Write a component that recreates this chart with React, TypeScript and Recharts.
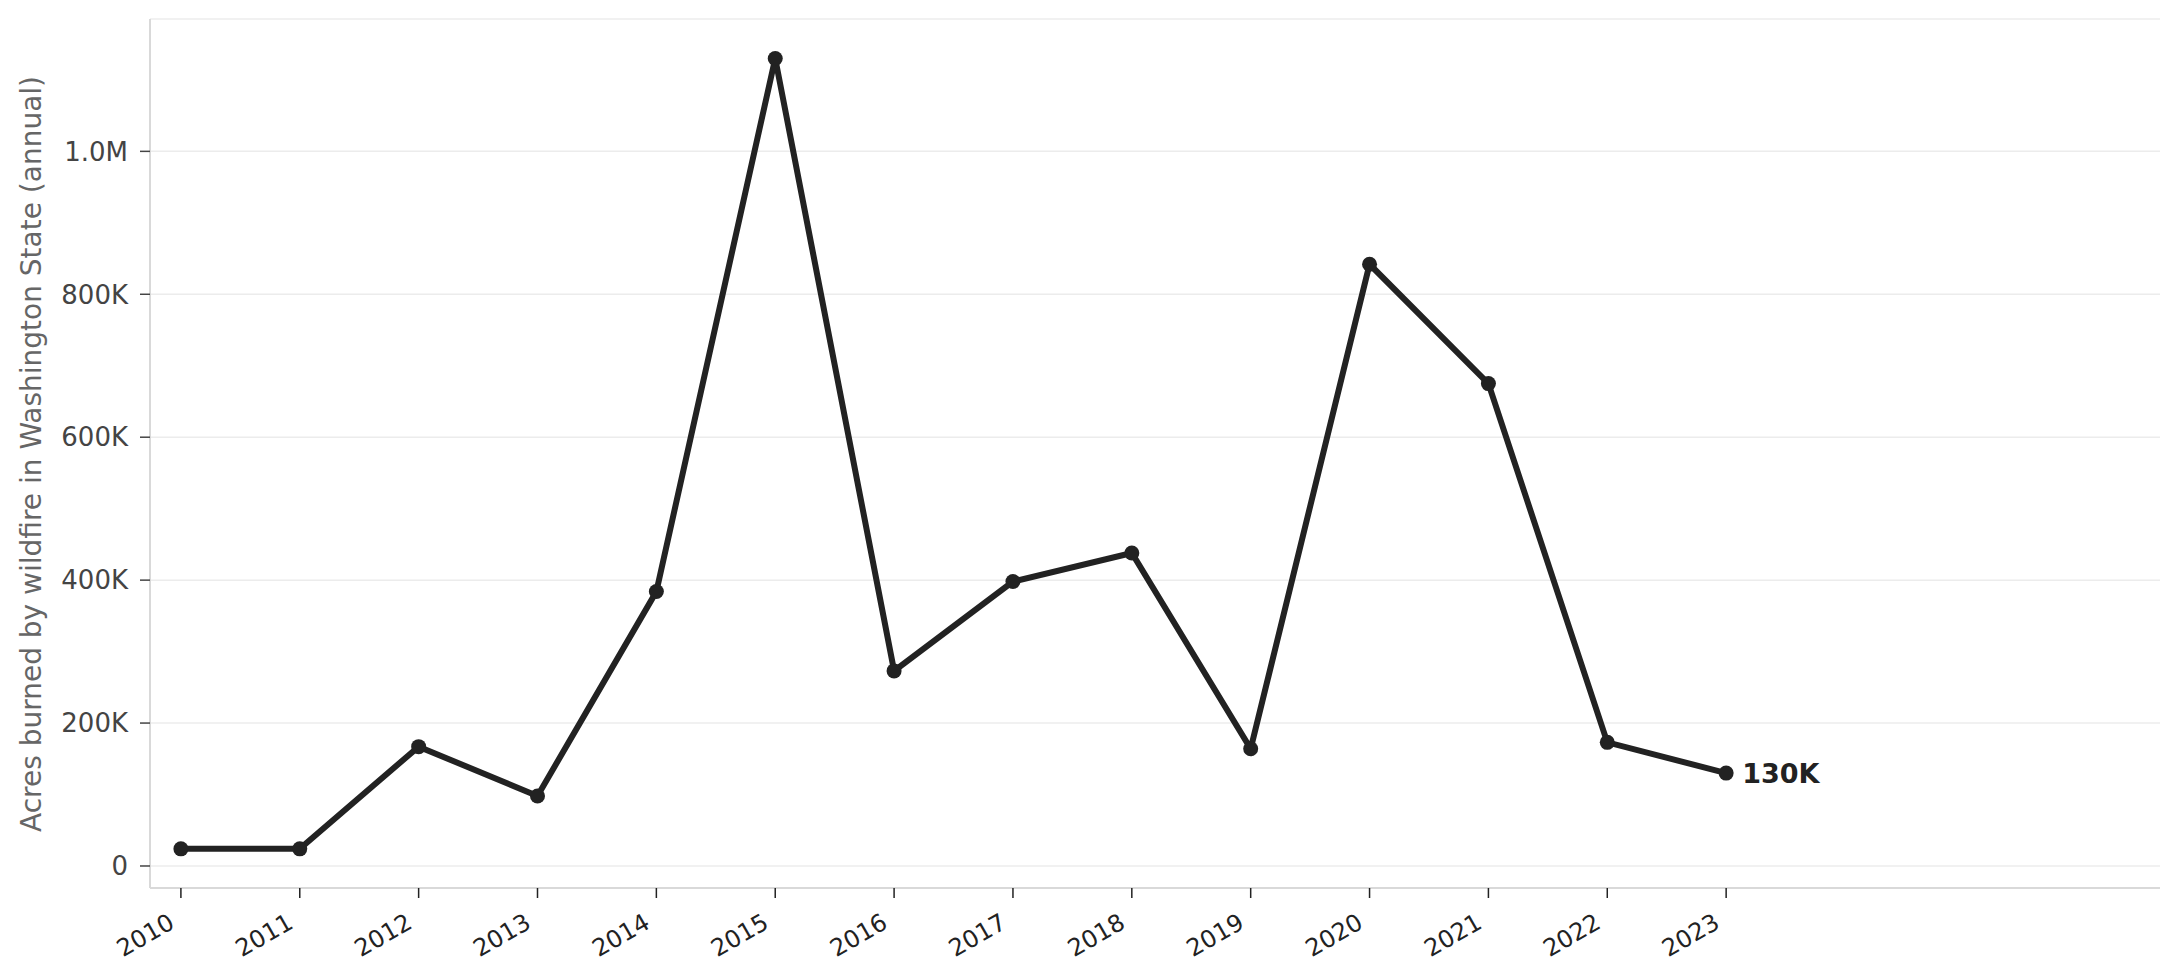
import { CartesianGrid, Label, Line, LineChart, XAxis, YAxis } from "recharts";

const YEARS = [2010, 2011, 2012, 2013, 2014, 2015, 2016, 2017, 2018, 2019, 2020, 2021, 2022, 2023];
const ACRES = [24000, 24000, 167000, 98000, 384000, 1130000, 273000, 398000, 438000, 164000, 842000, 675000, 173000, 130000];
const Y_TICKS = [0, 200000, 400000, 600000, 800000, 1000000];
const Y_LABEL = "Acres burned by wildfire in Washington State (annual)";

const FONT = "DejaVu Sans";
const INK = "#222222";

const data = YEARS.map((year, i) => ({ year, acres: ACRES[i] }));

function formatAcres(v: number) {
  if (v >= 1000000) return `${(v / 1000000).toFixed(1)}M`;
  if (v >= 1000) return `${Math.round(v / 1000)}K`;
  return `${v}`;
}

function YearTick({ x, y, payload }: any) {
  return (
    <g transform={`translate(${x},${y})`}>
      <text
        x={0}
        y={0}
        transform="translate(-5,29) rotate(-30)"
        textAnchor="end"
        fontFamily={FONT}
        fontSize={24}
        fill={INK}
      >
        {payload.value}
      </text>
    </g>
  );
}

function LastLabel({ x, y, index, value }: any) {
  if (index !== data.length - 1) return null;
  return (
    <text
      x={x + 16}
      y={y}
      dominantBaseline="central"
      fontFamily={FONT}
      fontSize={27}
      fontWeight="bold"
      fill={INK}
    >
      {formatAcres(value)}
    </text>
  );
}

export default function App() {
  return (
    <div style={{ position: "absolute", left: 0, top: 0, background: "#fff" }}>
      <LineChart width={2180} height={980} data={data} margin={{ top: 19, right: 20, bottom: 0, left: 0 }}>
        <CartesianGrid vertical={false} stroke="#ececec" strokeWidth={1.5} />
        <XAxis
          dataKey="year"
          type="number"
          domain={[2009.74, 2026.65]}
          ticks={YEARS}
          allowDataOverflow
          height={92}
          interval={0}
          axisLine={{ stroke: "#d9d9d9", strokeWidth: 2 }}
          tickLine={{ stroke: INK, strokeWidth: 1.5 }}
          tickSize={10}
          tickMargin={0}
          tick={<YearTick />}
        />
        <YAxis
          type="number"
          domain={[-30800, 1185200]}
          ticks={Y_TICKS}
          allowDataOverflow
          width={150}
          tickFormatter={formatAcres}
          axisLine={{ stroke: "#d9d9d9", strokeWidth: 2 }}
          tickLine={{ stroke: "#444", strokeWidth: 1.5 }}
          tickSize={10}
          tickMargin={12}
          tick={{ fontFamily: FONT, fontSize: 26, fill: "#444" }}
        >
          <Label
            content={() => (
              <text
                transform="translate(31,454) rotate(-90)"
                textAnchor="middle"
                dominantBaseline="central"
                fontFamily={FONT}
                fontSize={28}
                fill="#666"
              >
                {Y_LABEL}
              </text>
            )}
          />
        </YAxis>
        <Line
          type="linear"
          dataKey="acres"
          stroke={INK}
          strokeWidth={6}
          dot={{ r: 7.5, fill: INK, stroke: INK, strokeWidth: 0 }}
          activeDot={false}
          label={<LastLabel />}
          isAnimationActive={false}
        />
      </LineChart>
    </div>
  );
}
